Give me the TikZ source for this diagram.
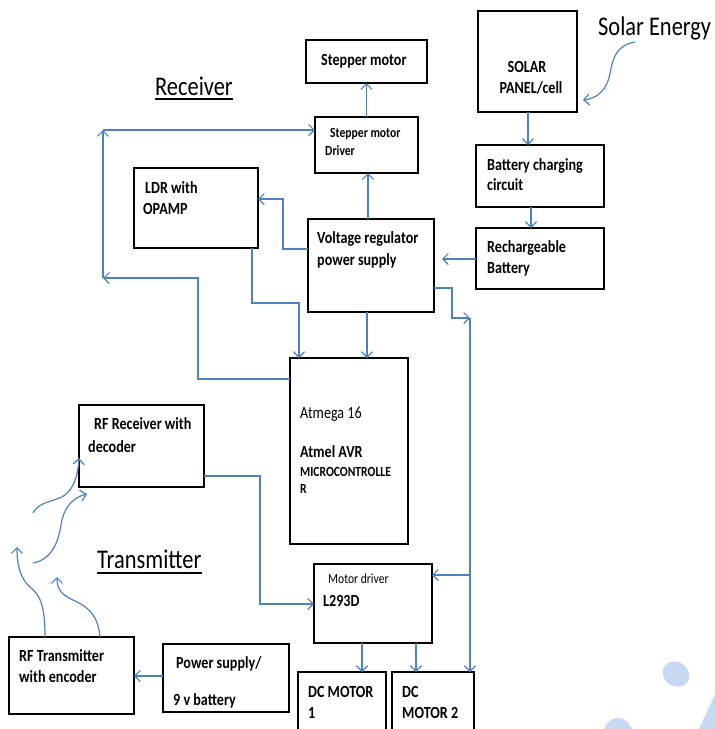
\documentclass[tikz,border=0pt]{standalone}
\usepackage{fontspec}
\setmainfont{Carlito}
\usetikzlibrary{arrows.meta}
\definecolor{lnblue}{RGB}{79,129,189}
\definecolor{decoblue}{RGB}{198,217,241}
\newcommand{\sq}[1]{\scalebox{0.83}[1]{#1}}
\begin{document}
\begin{tikzpicture}[x=1pt,y=-1pt,
  box/.style={draw=black, line width=1.8pt, anchor=north west, inner sep=0pt, outer sep=0pt},
  bt/.style={anchor=base west, inner sep=0pt, font=\fontsize{17}{20}\selectfont\bfseries},
  bc/.style={anchor=base, inner sep=0pt, font=\fontsize{17}{20}\selectfont\bfseries},
  rt/.style={anchor=base west, inner sep=0pt, font=\fontsize{17}{20}\selectfont},
  sbt/.style={anchor=base west, inner sep=0pt, font=\fontsize{14}{16}\selectfont\bfseries},
  srt/.style={anchor=base west, inner sep=0pt, font=\fontsize{14}{16}\selectfont},
  ttl/.style={anchor=base west, inner sep=0pt, font=\fontsize{27}{30}\selectfont},
  conn/.style={draw=lnblue, line width=1.2pt, line join=miter},
  arr/.style={conn, -{Straight Barb[length=5.5pt,width=11pt]}}
]
\useasboundingbox (0,0) rectangle (715,729);
\fill[white] (0,0) rectangle (715,729);
\clip (0,0) rectangle (715,729);

% decorations
\fill[decoblue, rotate around={-35:(676,674)}] (676,674) ellipse (14pt and 12pt);
\fill[decoblue] (618,732) circle (14pt);
\fill[decoblue] (716,692) -- (698,731) -- (716,731) -- cycle;

% boxes
\node[box, minimum width=121pt, minimum height=43pt] (stm) at (306,40) {};
\node[box, minimum width=103pt, minimum height=56pt] (drv) at (315,117) {};
\node[box, minimum width=124pt, minimum height=80pt] (ldr) at (134,168) {};
\node[box, minimum width=126pt, minimum height=93pt] (vreg) at (308,219) {};
\node[box, minimum width=118pt, minimum height=186pt] (atm) at (290,358) {};
\node[box, minimum width=118pt, minimum height=79pt] (mdrv) at (314,564) {};
\node[box, minimum width=88pt, minimum height=70pt] (dc1) at (298,672) {};
\node[box, minimum width=82pt, minimum height=70pt] (dc2) at (392,672) {};
\node[box, minimum width=99pt, minimum height=101pt] (sol) at (478,11) {};
\node[box, minimum width=128pt, minimum height=62pt] (chg) at (476,145) {};
\node[box, minimum width=128pt, minimum height=61pt] (bat) at (476,228) {};
\node[box, minimum width=125pt, minimum height=82pt] (rfr) at (79,405) {};
\node[box, minimum width=125pt, minimum height=77pt] (rft) at (9,637) {};
\node[box, minimum width=126pt, minimum height=68pt] (pow) at (163,644) {};

% box texts
\node[bt] (t1) at (321,65) {\sq{Stepper motor}};
\node[sbt] (t2) at (330,137) {\sq{Stepper motor}};
\node[sbt] (t3) at (325,155) {\sq{Driver}};
\node[bt] (t4) at (145,193) {\sq{LDR with}};
\node[bt] (t5) at (143,214) {\sq{OPAMP}};
\node[bt] (t6) at (317,243) {\sq{Voltage regulator}};
\node[bt] (t7) at (317,265) {\sq{power supply}};
\node[bc] (t8) at (527,72) {\sq{SOLAR}};
\node[bc] (t9) at (531,93) {\sq{PANEL/cell}};
\node[bt] (t10) at (487,170) {\sq{Battery charging}};
\node[bt] (t11) at (487,190) {\sq{circuit}};
\node[bt] (t12) at (487,252) {\sq{Rechargeable}};
\node[bt] (t13) at (487,273) {\sq{Battery}};
\node[rt] (t14) at (300,418) {\sq{Atmega 16}};
\node[bt] (t15) at (300,457) {\sq{Atmel AVR}};
\node[sbt] (t16) at (300,476) {\sq{MICROCONTROLLE}};
\node[sbt] (t17) at (300,493) {\sq{R}};
\node[srt] (t18) at (328,583) {\sq{Motor driver}};
\node[bt] (t19) at (323,606) {\sq{L293D}};
\node[bt] (t20) at (308,697) {\sq{DC MOTOR}};
\node[bt] (t21) at (308,718) {\sq{1}};
\node[bt] (t22) at (402,697) {\sq{DC}};
\node[bt] (t23) at (402,718) {\sq{MOTOR 2}};
\node[bt] (t24) at (94,429) {\sq{RF Receiver with}};
\node[bt] (t25) at (88,452) {\sq{decoder}};
\node[bt] (t26) at (19,661) {\sq{RF Transmitter}};
\node[bt] (t27) at (19,682) {\sq{with encoder}};
\node[bt] (t28) at (176,668) {\sq{Power supply/}};
\node[bt] (t29) at (173,705) {\sq{9 v battery}};

% titles
\node[ttl] (rcv) at (155,95) {\sq{Receiver}};
\node[ttl] (trn) at (97,568) {\sq{Transmitter}};
\node[ttl] (se) at (598,35) {\sq{Solar Energy}};
\draw[line width=1.6pt] ([yshift=-4pt]rcv.base west) -- ([yshift=-4pt]rcv.base east);
\draw[line width=1.6pt] ([yshift=-5pt]trn.base west) -- ([yshift=-5pt]trn.base east);

% coordinates
\coordinate (a1) at (290,379);
\coordinate (la) at (198,278);
\coordinate (lb) at (103,278);
\coordinate (lc) at (103,130);
\coordinate (v1) at (283,249);
\coordinate (v2) at (283,199);
\coordinate (l1) at (252,303);
\coordinate (l2) at (299,303);
\coordinate (b1) at (442,259);
\coordinate (r1) at (452,288);
\coordinate (r2) at (452,318);
\coordinate (r3) at (470,318);
\coordinate (r4) at (470,575);
\coordinate (f1) at (260,476);
\coordinate (f2) at (260,604);
\coordinate (m1) at (362,0);
\coordinate (m2) at (416,0);
\coordinate (p1) at (0,676);
\coordinate (s1) at (528,0);
\coordinate (s2) at (531,0);
\coordinate (x1) at (368,0);
\coordinate (x2) at (367,0);
\coordinate (sestart) at (635,42);
\coordinate (w1s) at (45,637);
\coordinate (w2s) at (100,637);
\coordinate (w3s) at (33,563);
\coordinate (w4s) at (33,513);

% connectors
\draw[arr] (drv.north -| stm.south) -- (stm.south);
\draw[arr] (vreg.north -| x1) -- (drv.south -| x1);
\draw[arr] (vreg.south -| x2) -- (atm.north -| x2);
\draw[arr] (atm.west |- a1) -| (la) -- (lb);
\draw[arr] (lb) -- (lc);
\draw[arr] (lc) -- (lc -| drv.west);
\draw[arr] (vreg.west |- v1) -- (v1) -- (v2) -- (v2 -| ldr.east);
\draw[arr] (ldr.south -| l1) -- (l1) -- (l2) -- (l2 |- atm.north);
\draw[arr] (bat.west |- b1) -- (b1);
\draw[arr] (vreg.east |- r1) -- (r1) -- (r2) -- (r3);
\draw[arr] (r3) -- (r3 |- dc2.north);
\draw[arr] (r4) -- (r4 -| mdrv.east);
\draw[arr] (rfr.east |- f1) -- (f1) -- (f2) -- (f2 -| mdrv.west);
\draw[arr] (mdrv.south -| m1) -- (dc1.north -| m1);
\draw[arr] (mdrv.south -| m2) -- (dc2.north -| m2);
\draw[arr] (pow.west |- p1) -- (rft.east |- p1);
\draw[arr] (sol.south -| s1) -- (chg.north -| s1);
\draw[arr] (chg.south -| s2) -- (bat.north -| s2);
\draw[arr] (sestart) .. controls (612,46) and (612,66) .. (609,78) .. controls (605,92) and (595,99) .. (583,100);

% wireless waves
\draw[arr] (w1s) .. controls (45,605) and (40,595) .. (30,587) .. controls (20,578) and (17,565) .. (17,547);
\draw[arr] (w2s) .. controls (98,615) and (88,607) .. (75,601) .. controls (62,595) and (57,590) .. (57,577);
\draw[arr] (w3s) .. controls (50,560) and (58,545) .. (61,525) .. controls (64,505) and (75,497) .. (87,494);
\draw[arr] (w4s) .. controls (38,503) and (50,502) .. (62,497) .. controls (74,490) and (78,475) .. (79,458);
\end{tikzpicture}
\end{document}
